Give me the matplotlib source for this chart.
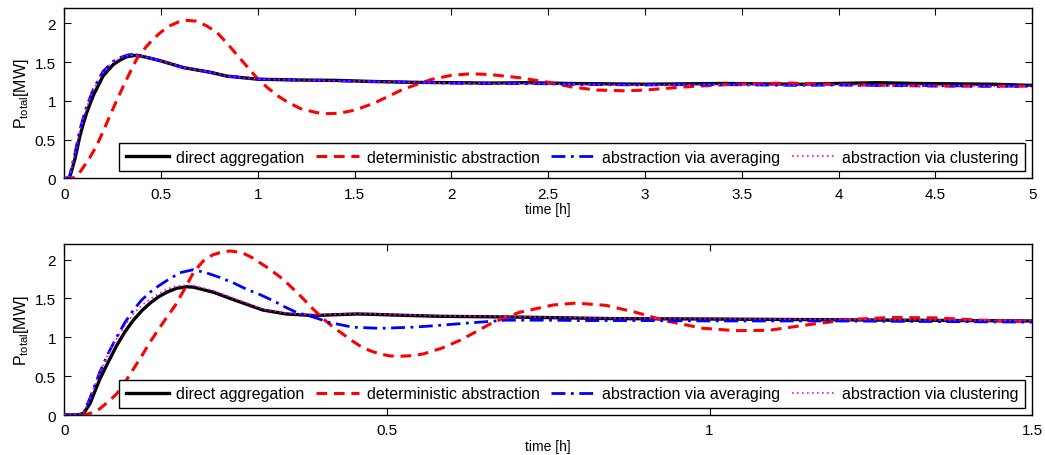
"""Total power response: direct aggregation vs. three abstraction methods.

Two panels: a 5 h window and a zoom on the first 1.5 h.
Output: out.png
"""

import matplotlib
matplotlib.use("Agg")
import matplotlib.pyplot as plt

plt.rcParams["font.family"] = "Liberation Sans"
plt.rcParams["mathtext.fontset"] = "custom"
plt.rcParams["mathtext.rm"] = "Liberation Sans"
plt.rcParams["mathtext.it"] = "Liberation Sans"

LABELS = ["direct aggregation", "deterministic abstraction",
          "abstraction via averaging", "abstraction via clustering"]

# ---- top panel (0-5 h) ----
t1_direct = [0, 0.02, 0.03, 0.055, 0.081, 0.1, 0.116, 0.15, 0.2, 0.253, 0.29, 0.322,
             0.374, 0.43, 0.494, 0.615, 0.753, 0.84, 1.0, 1.2, 1.4, 1.6, 1.8, 2.0,
             2.2, 2.4, 2.6, 2.8, 3.0, 3.2, 3.4, 3.6, 3.8, 4.0, 4.2, 4.4, 4.6, 4.8, 5.0]
p1_direct = [0, 0, 0.03, 0.25, 0.55, 0.72, 0.85, 1.07, 1.32, 1.47, 1.53, 1.57,
             1.59, 1.56, 1.52, 1.43, 1.37, 1.32, 1.28, 1.27, 1.265, 1.25, 1.24, 1.235,
             1.23, 1.235, 1.225, 1.22, 1.215, 1.22, 1.225, 1.22, 1.215, 1.225, 1.235, 1.225, 1.22, 1.215, 1.2]

t1_avg = [0, 0.02, 0.03, 0.055, 0.081, 0.1, 0.116, 0.15, 0.2, 0.253, 0.29, 0.33,
          0.36, 0.4, 0.43, 0.494, 0.615, 0.753, 0.84, 1.0, 1.2, 1.4, 1.6, 1.8, 2.0,
          2.2, 2.4, 2.6, 2.8, 3.0, 3.2, 3.4, 3.6, 3.8, 4.0, 4.2, 4.4, 4.6, 4.8, 5.0]
p1_avg = [0, 0, 0.05, 0.32, 0.63, 0.8, 0.93, 1.15, 1.38, 1.51, 1.56, 1.595,
          1.6, 1.585, 1.56, 1.52, 1.43, 1.37, 1.32, 1.28, 1.27, 1.26, 1.25, 1.24, 1.23,
          1.225, 1.225, 1.215, 1.21, 1.205, 1.21, 1.21, 1.205, 1.2, 1.205, 1.2, 1.2, 1.195, 1.19, 1.19]

t1_clust = t1_avg
p1_clust = [0, 0, 0.05, 0.31, 0.62, 0.79, 0.92, 1.14, 1.37, 1.5, 1.555, 1.59,
            1.595, 1.58, 1.56, 1.52, 1.43, 1.37, 1.32, 1.28, 1.27, 1.26, 1.25, 1.24, 1.23,
            1.225, 1.225, 1.215, 1.21, 1.205, 1.21, 1.21, 1.205, 1.2, 1.205, 1.2, 1.2, 1.195, 1.19, 1.19]

t1_det = [0, 0.04, 0.07, 0.098, 0.13, 0.167, 0.2, 0.236, 0.27, 0.305, 0.34, 0.374, 0.42,
          0.46, 0.5, 0.546, 0.59, 0.632, 0.68, 0.735, 0.79, 0.839, 0.89, 0.942, 0.994,
          1.05, 1.1, 1.15, 1.22, 1.3, 1.35, 1.42, 1.5, 1.6, 1.75, 1.9, 2.0, 2.1, 2.2,
          2.35, 2.5, 2.62, 2.75, 2.9, 3.0, 3.2, 3.5, 3.75, 4.0, 4.25, 4.5, 4.75, 5.0]
p1_det = [0, 0, 0.04, 0.14, 0.26, 0.42, 0.6, 0.81, 1.0, 1.19, 1.37, 1.54, 1.69,
          1.8, 1.89, 1.97, 2.02, 2.04, 2.03, 1.97, 1.88, 1.75, 1.6, 1.45, 1.3,
          1.17, 1.07, 0.99, 0.9, 0.85, 0.835, 0.84, 0.88, 0.97, 1.15, 1.28, 1.33, 1.35, 1.34,
          1.3, 1.24, 1.18, 1.14, 1.13, 1.14, 1.18, 1.22, 1.23, 1.21, 1.2, 1.19, 1.19, 1.19]

# ---- bottom panel (0-1.5 h) ----
t2_direct = [0, 0.02, 0.03, 0.04, 0.055, 0.068, 0.081, 0.094, 0.107, 0.12, 0.133, 0.146,
             0.159, 0.174, 0.19, 0.2, 0.231, 0.267, 0.308, 0.344, 0.386, 0.42, 0.453,
             0.48, 0.515, 0.582, 0.7, 0.85, 1.0, 1.1, 1.2, 1.3, 1.4, 1.5]
p2_direct = [0, 0, 0.02, 0.15, 0.46, 0.68, 0.89, 1.07, 1.22, 1.34, 1.44, 1.52,
             1.58, 1.63, 1.65, 1.645, 1.58, 1.47, 1.35, 1.30, 1.28, 1.29, 1.30,
             1.295, 1.285, 1.27, 1.26, 1.24, 1.235, 1.23, 1.225, 1.22, 1.215, 1.21]

t2_avg = [0, 0.02, 0.03, 0.04, 0.055, 0.068, 0.081, 0.094, 0.107, 0.12, 0.133, 0.146,
          0.159, 0.179, 0.2, 0.22, 0.241, 0.262, 0.282, 0.303, 0.324, 0.342, 0.36, 0.386,
          0.411, 0.447, 0.489, 0.54, 0.576, 0.62, 0.653, 0.684, 0.75, 0.8, 0.9, 1.0,
          1.1, 1.2, 1.3, 1.4, 1.5]
p2_avg = [0, 0, 0.03, 0.22, 0.55, 0.79, 1.0, 1.19, 1.35, 1.48, 1.58, 1.66,
          1.73, 1.83, 1.87, 1.83, 1.77, 1.7, 1.62, 1.55, 1.47, 1.39, 1.32, 1.26,
          1.19, 1.13, 1.115, 1.13, 1.15, 1.18, 1.2, 1.22, 1.22, 1.215, 1.215, 1.21,
          1.21, 1.21, 1.205, 1.2, 1.195]

t2_clust = t2_direct
p2_clust = [0, 0, 0.03, 0.22, 0.55, 0.78, 0.98, 1.15, 1.3, 1.41, 1.49, 1.56,
            1.62, 1.66, 1.67, 1.665, 1.6, 1.49, 1.36, 1.31, 1.29, 1.295, 1.305,
            1.3, 1.29, 1.275, 1.265, 1.245, 1.24, 1.235, 1.23, 1.225, 1.22, 1.215]

t2_det = [0, 0.03, 0.04, 0.055, 0.068, 0.081, 0.094, 0.107, 0.12, 0.133, 0.146, 0.159,
          0.172, 0.185, 0.2, 0.215, 0.23, 0.245, 0.257, 0.275, 0.29, 0.303, 0.316, 0.329,
          0.34, 0.35, 0.36, 0.371, 0.381, 0.391, 0.401, 0.411, 0.422, 0.432, 0.445, 0.458,
          0.473, 0.489, 0.505, 0.52, 0.54, 0.556, 0.585, 0.613, 0.64, 0.664, 0.705, 0.757,
          0.793, 0.84, 0.886, 0.933, 0.99, 1.04, 1.092, 1.16, 1.22, 1.28, 1.35, 1.42, 1.5]
p2_det = [0, 0, 0.02, 0.08, 0.17, 0.27, 0.42, 0.59, 0.76, 0.94, 1.1, 1.26,
          1.41, 1.6, 1.83, 1.98, 2.06, 2.1, 2.11, 2.09, 2.03, 1.96, 1.89, 1.81,
          1.74, 1.66, 1.58, 1.49, 1.40, 1.32, 1.24, 1.17, 1.10, 1.04, 0.96, 0.89,
          0.83, 0.785, 0.76, 0.755, 0.765, 0.785, 0.86, 0.96, 1.08, 1.19, 1.32, 1.415,
          1.44, 1.41, 1.32, 1.21, 1.115, 1.085, 1.09, 1.17, 1.23, 1.255, 1.25, 1.22, 1.2]

xticks_top = [0, 0.5, 1, 1.5, 2, 2.5, 3, 3.5, 4, 4.5, 5]
xticks_bot = [0, 0.5, 1, 1.5]
yticks = [0, 0.5, 1, 1.5, 2]


def draw(ax, curves, xmax, xticks):
    (td, pd_), (tr, pr), (ta, pa), (tc, pc) = curves
    ax.plot(td, pd_, color="black", lw=2.4, label=LABELS[0], zorder=2)
    ax.plot(tr, pr, color="#ff0000", lw=2.2, ls=(0, (3.5, 2.2)), label=LABELS[1], zorder=3)
    ax.plot(ta, pa, color="#0000ff", lw=2, ls=(0, (5, 2, 1, 2)), label=LABELS[2], zorder=4)
    ax.plot(tc, pc, color="#ff00ff", lw=1.2, ls=(0, (1, 2)), label=LABELS[3], zorder=5)
    ax.set_xlim(0, xmax)
    ax.set_ylim(0, 2.2)
    ax.set_xticks(xticks)
    ax.set_xticklabels([f"{v:g}" for v in xticks])
    ax.set_yticks(yticks)
    ax.set_yticklabels([f"{v:g}" for v in yticks])
    ax.tick_params(direction="in", top=True, right=True, length=5, width=0.8,
                   labelsize=11, pad=6)
    for s in ax.spines.values():
        s.set_linewidth(1.0)
    ax.set_xlabel("time [h]", fontsize=10, labelpad=1)
    ax.set_ylabel(r"$\mathrm{P_{total}}$[MW]", fontsize=11.5, labelpad=3)
    leg = ax.legend(loc="lower right", ncol=4, fontsize=11.5, frameon=True, fancybox=False,
                    framealpha=1, edgecolor="black", handlelength=2.7, handletextpad=0.45,
                    columnspacing=0.75, borderaxespad=0.45, borderpad=0.4)
    leg.get_frame().set_linewidth(1.0)


fig = plt.figure(figsize=(10.45, 4.56), dpi=100)
ax1 = fig.add_axes([0.0615, 0.6068, 0.9263, 0.3735])
ax2 = fig.add_axes([0.0615, 0.0877, 0.9263, 0.375])

draw(ax1, [(t1_direct, p1_direct), (t1_det, p1_det), (t1_avg, p1_avg), (t1_clust, p1_clust)],
     5, xticks_top)
draw(ax2, [(t2_direct, p2_direct), (t2_det, p2_det), (t2_avg, p2_avg), (t2_clust, p2_clust)],
     1.5, xticks_bot)

fig.savefig("out.png", dpi=100)
